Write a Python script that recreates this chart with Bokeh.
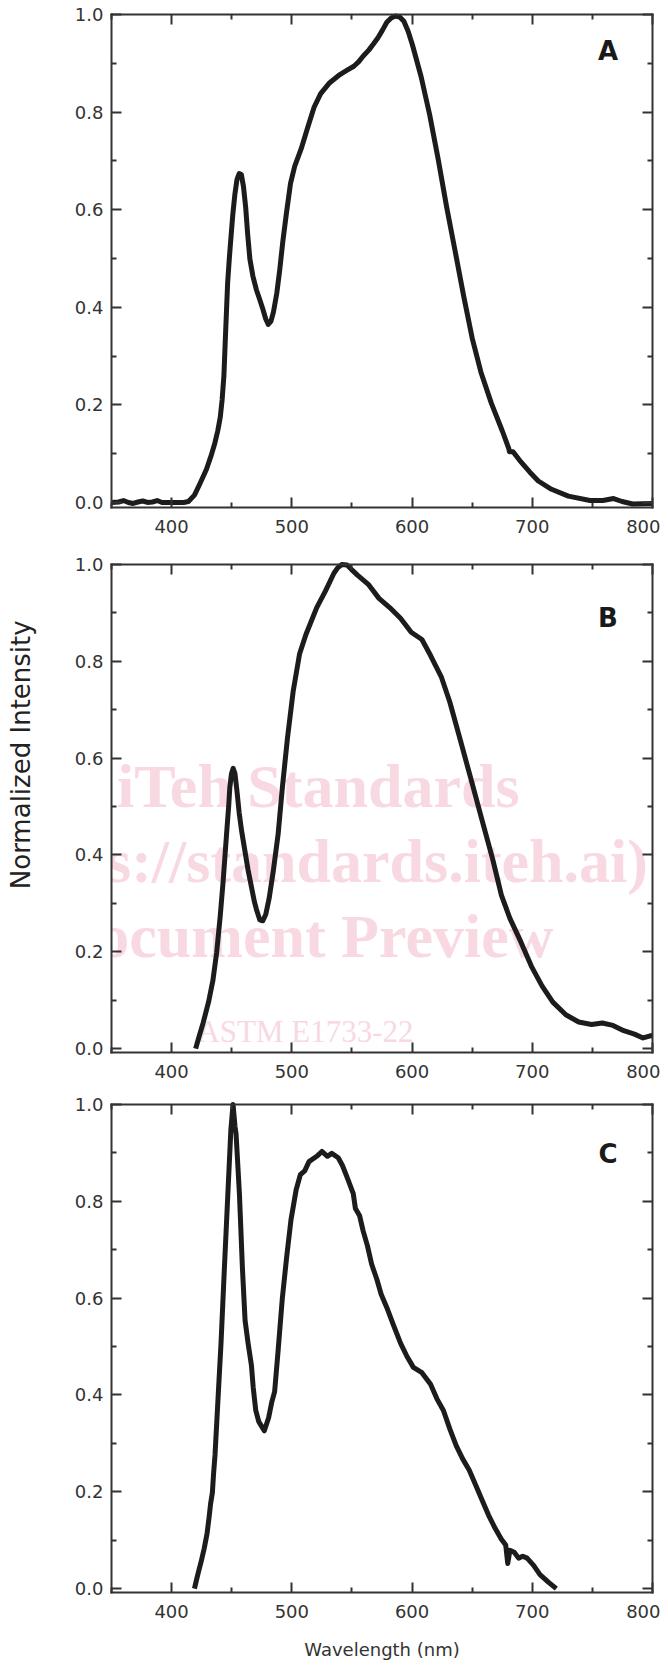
from bokeh.plotting import figure
from bokeh.models import LinearAxis, Label, FixedTicker, Range1d, NumeralTickFormatter
from bokeh.layouts import column
from bokeh.embed import file_html
from bokeh.resources import INLINE

# ---------------- data ----------------
wl_a = [350, 356, 360, 364, 368, 372, 376, 380, 384, 388, 392, 400, 410, 414, 419, 424, 429,
        433, 436, 438.4, 440.5, 442, 443.5, 444.5, 445.6, 446.6, 448, 449.1, 450.9, 452.7,
        454.4, 456.2, 458, 459.8, 461.6, 463.3, 465.1, 467.6, 470.5, 473, 475.8, 478.3, 480.4,
        482.6, 484.7, 487.5, 490, 492.5, 495.4, 498.9, 502.5, 507.8, 513, 518.5, 524, 531,
        540, 546, 551.6, 555.5, 559.4, 564, 568, 571.5, 575.4, 579, 582.6, 586.1, 589.7,
        593.2, 596.8, 600.4, 607.5, 614.6, 621.7, 628.8, 636, 643, 650, 657.3, 666, 675,
        680.4, 681, 684, 689.3, 698, 705, 716, 730, 748, 758.7, 767.6, 774.7, 783.6, 800]
int_a = [0.000, 0.001, 0.004, 0.000, -0.002, 0.001, 0.003, 0.000, 0.001, 0.004, 0.000, 0.000,
         0.000, 0.002, 0.015, 0.041, 0.068, 0.097, 0.122, 0.147, 0.175, 0.210, 0.260, 0.323,
         0.390, 0.450, 0.500, 0.535, 0.590, 0.633, 0.662, 0.674, 0.672, 0.647, 0.605, 0.549,
         0.499, 0.464, 0.436, 0.418, 0.397, 0.376, 0.365, 0.371, 0.390, 0.429, 0.478, 0.535,
         0.591, 0.654, 0.690, 0.725, 0.767, 0.810, 0.838, 0.859, 0.877, 0.886, 0.894, 0.903,
         0.915, 0.927, 0.940, 0.952, 0.968, 0.984, 0.993, 0.997, 0.995, 0.986, 0.965, 0.937,
         0.873, 0.795, 0.704, 0.605, 0.513, 0.422, 0.337, 0.267, 0.203, 0.147, 0.111, 0.104,
         0.104, 0.087, 0.062, 0.044, 0.027, 0.013, 0.004, 0.004, 0.008, 0.002, -0.003, -0.002]

wl_b = [420, 422.5, 426.1, 430.7, 434.3, 437.5, 440.4, 442.9, 445.7, 447.5, 448.4, 449.8,
        451.2, 452.7, 454.4, 456.2, 458.2, 463.6, 468.9, 470.5, 473.3, 475.8, 478.3, 481.1,
        484.7, 488.6, 492.1, 496.4, 501.1, 506.4, 511.8, 515.4, 520.7, 527.9, 535, 538.1,
        541.6, 545.9, 549.5, 554.6, 563.6, 572.5, 581.4, 590.4, 599.3, 608.2, 615.4, 624.3,
        631.4, 640.4, 649.3, 658.2, 667.1, 674.3, 681.4, 690.4, 699.3, 708.2, 717.1, 727.9,
        738.6, 749.3, 758.2, 767.1, 776.1, 785, 792.1, 797.5, 800]
int_b = [0.000, 0.022, 0.052, 0.096, 0.140, 0.199, 0.273, 0.347, 0.443, 0.502, 0.539, 0.568,
         0.579, 0.568, 0.531, 0.487, 0.450, 0.369, 0.303, 0.288, 0.266, 0.264, 0.277, 0.310,
         0.369, 0.443, 0.539, 0.642, 0.738, 0.815, 0.856, 0.878, 0.911, 0.945, 0.982, 0.993,
         1.000, 0.999, 0.990, 0.978, 0.959, 0.930, 0.911, 0.889, 0.860, 0.845, 0.812, 0.768,
         0.716, 0.635, 0.554, 0.472, 0.391, 0.317, 0.269, 0.221, 0.170, 0.129, 0.096, 0.070,
         0.055, 0.050, 0.053, 0.048, 0.037, 0.030, 0.022, 0.026, 0.027]

wl_c = [419, 420.6, 422.5, 424.2, 427.1, 429.5, 431.4, 432.4, 433.9, 434.9, 436.1, 438.6,
        441.1, 443.9, 446.8, 449.3, 451.1, 452.7, 453.6, 456.4, 458.9, 461.1, 463.6, 466.4,
        467.9, 470, 472.5, 477.1, 480.7, 483.2, 485.7, 488.6, 492.1, 495.7, 499.3, 503.6,
        507.1, 510.7, 514.3, 520.7, 525, 529.6, 533.2, 538.6, 542.1, 546.4, 551.1, 552.9,
        556.4, 559.3, 562.9, 566.4, 570.7, 574.3, 579.6, 584.3, 590.4, 595.7, 601.1, 608.2,
        615.4, 620.7, 626.1, 631.4, 636.8, 642.1, 647.5, 652.9, 658.2, 663.6, 669, 674.3,
        677.9, 679.6, 681.4, 685, 688.6, 692.1, 695.7, 701.1, 706.4, 713.6, 720]
int_c = [0.000, 0.017, 0.036, 0.052, 0.083, 0.114, 0.152, 0.175, 0.198, 0.237, 0.276, 0.392,
         0.507, 0.662, 0.816, 0.948, 1.000, 0.955, 0.940, 0.816, 0.662, 0.554, 0.507, 0.461,
         0.415, 0.368, 0.345, 0.326, 0.353, 0.384, 0.407, 0.492, 0.600, 0.685, 0.762, 0.824,
         0.855, 0.863, 0.882, 0.893, 0.903, 0.893, 0.899, 0.890, 0.874, 0.847, 0.816, 0.785,
         0.770, 0.739, 0.708, 0.670, 0.639, 0.608, 0.577, 0.546, 0.507, 0.480, 0.457, 0.446,
         0.422, 0.392, 0.368, 0.330, 0.295, 0.268, 0.245, 0.214, 0.183, 0.152, 0.125, 0.102,
         0.090, 0.052, 0.079, 0.075, 0.063, 0.067, 0.063, 0.048, 0.029, 0.013, 0.000]

x_major = [400, 500, 600, 700, 800]
x_minor = [350, 450, 550, 650, 750]
y_major = [0.0, 0.2, 0.4, 0.6, 0.8, 1.0]
y_minor = [0.1, 0.3, 0.5, 0.7, 0.9]

panel_letters = ["A", "B", "C"]
letter_x = 763
letter_y = [0.925, 0.889, 0.897]

x_title = "Wavelength (nm)"
y_title = "Normalized Intensity"

watermark = ["iTeh Standards", "(https://standards.iteh.ai)", "Document Preview"]
wm_small = "ASTM E1733-22"

# ---------------- styling ----------------
FONT = "DejaVu Sans"
AX_COL = "#333333"
LINE_COL = "#1c1c1c"
PINK = "#f8d9e2"


def style_axis(ax, show_labels, standoff):
    ax.axis_line_width = 2
    ax.axis_line_color = AX_COL
    ax.axis_line_cap = "square"
    ax.major_tick_in = 10
    ax.major_tick_out = 0
    ax.minor_tick_in = 5
    ax.minor_tick_out = 0
    ax.major_tick_line_width = 2
    ax.minor_tick_line_width = 2
    ax.major_tick_line_color = AX_COL
    ax.minor_tick_line_color = AX_COL
    ax.major_label_text_font = FONT
    ax.level = "overlay"
    if show_labels:
        ax.major_label_text_color = AX_COL
        ax.major_label_text_font_size = "18px"
        ax.major_label_standoff = standoff
    else:
        ax.major_label_text_color = None
        ax.major_label_text_font_size = "0px"
        ax.major_label_standoff = 0


def make_panel(wl, inten, idx, ymin, frame_h, b_top, b_bottom):
    p = figure(frame_width=541, frame_height=frame_h,
               x_range=Range1d(350, 800), y_range=Range1d(ymin, 1.0),
               output_backend="svg", toolbar_location=None,
               min_border_left=111, min_border_right=8,
               min_border_top=b_top, min_border_bottom=b_bottom)
    p.grid.visible = False
    p.outline_line_color = None
    p.background_fill_color = "white"
    p.border_fill_color = "white"

    xax = p.xaxis[0]
    yax = p.yaxis[0]
    xax.ticker = FixedTicker(ticks=x_major, minor_ticks=x_minor)
    yax.ticker = FixedTicker(ticks=y_major, minor_ticks=y_minor)
    yax.formatter = NumeralTickFormatter(format="0.0")
    style_axis(xax, True, 12)
    style_axis(yax, True, 8)

    top = LinearAxis(ticker=FixedTicker(ticks=x_major, minor_ticks=x_minor))
    right = LinearAxis(ticker=FixedTicker(ticks=y_major, minor_ticks=y_minor))
    style_axis(top, False, 0)
    style_axis(right, False, 0)
    p.add_layout(top, "above")
    p.add_layout(right, "right")

    p.line(wl, inten, line_color=LINE_COL, line_width=5, line_join="round",
           line_cap="butt", level="overlay")

    p.add_layout(Label(x=letter_x, y=letter_y[idx], text=panel_letters[idx],
                       text_font=FONT, text_font_style="bold", text_font_size="26px",
                       text_color="#1a1a1a", text_align="center", text_baseline="middle"))
    return p, xax, yax


pA, xA, yA = make_panel(wl_a, int_a, 0, -0.0103, 493, 14, 45)
pB, xB, yB = make_panel(wl_b, int_b, 1, -0.008, 488, 12, 40)
pC, xC, yC = make_panel(wl_c, int_c, 2, -0.008, 488, 12, 71)

# x-axis title under the bottom panel
xC.axis_label = x_title
xC.axis_label_text_font = FONT
xC.axis_label_text_font_size = "18px"
xC.axis_label_text_font_style = "normal"
xC.axis_label_text_color = AX_COL
xC.axis_label_standoff = 18

# shared y-axis title on panel B (leading no-break spaces lift it slightly,
# as in the original where it sits above the middle of panel B)
yB.axis_label = "\u00a0" * 13 + y_title
yB.axis_label_text_font = FONT
yB.axis_label_text_font_size = "26px"
yB.axis_label_text_font_style = "normal"
yB.axis_label_text_color = "#222222"
yB.axis_label_standoff = 36

# watermark of the source document (under the curve and axes)
wm_pos = [(522, 0.543), (516.8, 0.388), (509.7, 0.233)]
for t, (wx, wy) in zip(watermark, wm_pos):
    pB.add_layout(Label(x=wx, y=wy, text=t, text_font="Liberation Serif",
                        text_font_style="bold", text_font_size="62px", text_color=PINK,
                        text_align="center", text_baseline="middle"))
pB.add_layout(Label(x=511.4, y=0.035, text=wm_small, text_font="Liberation Serif",
                    text_font_size="31px", text_color=PINK,
                    text_align="center", text_baseline="middle"))

layout = column(pA, pB, pC, spacing=0)
open("out.html", "w").write(file_html(layout, INLINE, title="Normalized Intensity spectra"))
